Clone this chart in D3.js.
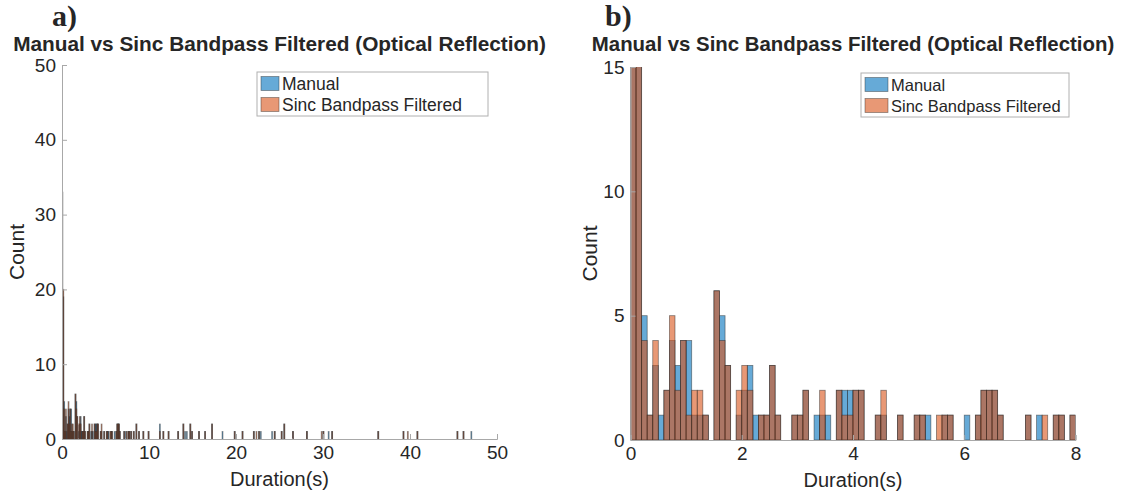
<!DOCTYPE html>
<html>
<head>
<meta charset="utf-8">
<script src="https://cdn.jsdelivr.net/npm/d3@7/dist/d3.min.js"></script>
<style>
  html, body { margin: 0; padding: 0; background: #fff; }
  svg { display: block; }
  text { font-family: "Liberation Sans", Arial, Helvetica, sans-serif; fill: #262626; }
</style>
</head>
<body>
<svg id="chart" width="1122" height="494"></svg>
<script>
// Histogram bin width in seconds (bins start at 0)
const binWidth = 0.1;

// Counts per 0.1 s bin from 0 to 8 s
const manualCounts = [
  33, 19, 5, 1, 3, 1, 2, 4, 3, 4,
  4, 1, 1, 1, 0, 6, 5, 3, 0, 1,
  2, 3, 1, 1, 1, 3, 1, 0, 0, 1,
  1, 2, 0, 1, 1, 1, 0, 2, 2, 2,
  2, 2, 0, 0, 1, 1, 0, 0, 1, 0,
  0, 1, 1, 1, 0, 0, 1, 1, 0, 0,
  1, 0, 1, 2, 2, 2, 1, 0, 0, 0,
  0, 1, 0, 1, 0, 0, 1, 1, 0, 1
];
const sincCounts = [
  20, 20, 4, 1, 4, 0, 2, 5, 2, 4,
  1, 2, 2, 1, 0, 6, 4, 3, 0, 2,
  3, 2, 0, 1, 1, 3, 1, 0, 0, 1,
  1, 2, 0, 0, 2, 0, 0, 2, 1, 1,
  2, 2, 0, 0, 1, 2, 0, 0, 1, 0,
  0, 1, 1, 0, 0, 1, 1, 1, 0, 0,
  0, 0, 1, 2, 2, 2, 1, 0, 0, 0,
  0, 1, 0, 0, 1, 0, 1, 1, 0, 1
];

// Sparse long-duration bins beyond 8 s (left edge of bin, seconds)
const tailBinStart = [8.2, 8.5, 8.8, 9.3, 9.9, 11.2, 11.6, 12.2, 13.3, 13.9, 14.1, 14.3, 14.7, 14.9,
  15.7, 16.4, 17.2, 18.4, 19.8, 20.7, 22.0, 22.3, 22.6, 22.8, 24.1, 24.4, 25.2, 25.5, 26.5,
  28.1, 29.8, 30.0, 30.6, 31.0, 36.3, 39.2, 39.7, 40.8, 45.4, 46.1, 47.0];
const tailManual = [1, 2, 1, 1, 1, 2, 1, 1, 1, 2, 1, 1, 2, 1,
  1, 1, 2, 1, 1, 1, 1, 0, 1, 1, 1, 1, 1, 2, 1,
  1, 0, 1, 1, 1, 1, 1, 0, 1, 1, 1, 1];
const tailSinc = [1, 2, 1, 1, 1, 1, 1, 1, 1, 2, 0, 0, 2, 1,
  1, 1, 2, 0, 1, 1, 1, 1, 1, 0, 0, 1, 1, 2, 1,
  1, 1, 1, 0, 1, 1, 1, 1, 1, 1, 1, 0];

const seriesNames = ["Manual", "Sinc Bandpass Filtered"];
const seriesColors = ["#0072BD", "#D95319"];

const panelTitle = "Manual vs Sinc Bandpass Filtered (Optical Reflection)";
const xLabel = "Duration(s)";
const yLabel = "Count";

const ticksA = { x: [0, 10, 20, 30, 40, 50], y: [0, 10, 20, 30, 40, 50] };
const ticksB = { x: [0, 2, 4, 6, 8], y: [0, 5, 10, 15] };

// Build bin records for each series
function buildBins(counts, tailCounts) {
  const bins = counts.map((c, i) => ({ x0: i * binWidth, x1: (i + 1) * binWidth, n: c }));
  tailBinStart.forEach((s, i) => bins.push({ x0: s, x1: s + binWidth, n: tailCounts[i] }));
  return bins.filter(b => b.n > 0);
}
const seriesBins = [buildBins(manualCounts, tailManual), buildBins(sincCounts, tailSinc)];

const svg = d3.select("#chart");

function drawPanel(cfg) {
  const x = d3.scaleLinear().domain(cfg.xDomain).range([cfg.left, cfg.right]);
  const y = d3.scaleLinear().domain(cfg.yDomain).range([cfg.bottom, cfg.top]);
  const g = svg.append("g");

  const clipId = "clip-" + cfg.id;
  svg.append("clipPath").attr("id", clipId).append("rect")
    .attr("x", cfg.left).attr("y", cfg.top)
    .attr("width", cfg.right - cfg.left).attr("height", cfg.bottom - cfg.top);

  const plot = g.append("g").attr("clip-path", `url(#${clipId})`);
  seriesBins.forEach((bins, si) => {
    plot.append("g").selectAll("rect")
      .data(bins.filter(b => b.x0 < cfg.xDomain[1]))
      .join("rect")
      .attr("x", d => x(d.x0))
      .attr("width", d => x(d.x1) - x(d.x0))
      .attr("y", d => y(d.n))
      .attr("height", d => y(0) - y(d.n))
      .attr("fill", seriesColors[si])
      .attr("fill-opacity", 0.6)
      .attr("stroke", "#262626")
      .attr("stroke-opacity", cfg.edgeOpacity)
      .attr("stroke-width", cfg.edgeWidth);
  });

  // Axes with inward ticks
  const xAxis = d3.axisBottom(x).tickValues(cfg.xTicks).tickSize(-5).tickPadding(7).tickFormat(d3.format("d"));
  const yAxis = d3.axisLeft(y).tickValues(cfg.yTicks).tickSize(-5).tickPadding(6).tickFormat(d3.format("d"));
  const gx = g.append("g").attr("transform", `translate(0,${cfg.bottom})`).call(xAxis);
  const gy = g.append("g").attr("transform", `translate(${cfg.left},0)`).call(yAxis);
  [gx, gy].forEach(a => {
    a.select(".domain").attr("stroke", "#a8a8a8").attr("stroke-width", 1);
    a.selectAll(".tick line").attr("stroke", "#a8a8a8");
    a.selectAll(".tick text").attr("font-size", 19).attr("fill", "#262626")
      .style("font-family", '"Liberation Sans", Arial, sans-serif');
  });

  // Axis labels
  g.append("text")
    .attr("x", (cfg.left + cfg.right) / 2).attr("y", cfg.bottom + 47)
    .attr("text-anchor", "middle").attr("font-size", 20).text(xLabel);
  g.append("text")
    .attr("transform", `translate(${cfg.yLabelX},${(cfg.top + cfg.bottom) / 2}) rotate(-90)`)
    .attr("text-anchor", "middle").attr("font-size", 21).text(yLabel);

  // Title and panel letter
  g.append("text")
    .attr("x", (cfg.left + cfg.right) / 2).attr("y", 51)
    .attr("text-anchor", "middle").attr("font-size", cfg.titleSize).attr("font-weight", "bold")
    .attr("fill", "#000").text(panelTitle);
  g.append("text")
    .attr("x", cfg.letterX).attr("y", 26)
    .attr("font-size", 30).attr("font-weight", "bold").attr("fill", "#000")
    .style("font-family", '"Liberation Serif", "Times New Roman", serif')
    .text(cfg.letter);

  // Legend
  const lg = g.append("g").attr("transform", `translate(${cfg.legend.x},${cfg.legend.y})`);
  lg.append("rect").attr("width", cfg.legend.w).attr("height", 44)
    .attr("fill", "#fff").attr("stroke", "#b0b0b0").attr("stroke-width", 1);
  seriesNames.forEach((name, i) => {
    lg.append("rect")
      .attr("x", 4).attr("y", 4.5 + i * 21).attr("width", cfg.legend.sw).attr("height", 14)
      .attr("fill", seriesColors[i]).attr("fill-opacity", 0.6)
      .attr("stroke", "#262626").attr("stroke-opacity", 0.5).attr("stroke-width", 0.8);
    lg.append("text")
      .attr("x", cfg.legend.sw + 7).attr("y", 17.5 + i * 21)
      .attr("font-size", cfg.legend.fs).attr("fill", "#000").text(name);
  });
}

drawPanel({
  id: "a", letter: "a)", letterX: 52,
  xDomain: [0, 50], yDomain: [0, 50],
  left: 62, right: 497, top: 65, bottom: 439,
  xTicks: ticksA.x, yTicks: ticksA.y,
  yLabelX: 24, titleSize: 20.8,
  edgeWidth: 0.9, edgeOpacity: 0.45,
  legend: { x: 257, y: 72, w: 231, sw: 18, fs: 17.5 }
});

drawPanel({
  id: "b", letter: "b)", letterX: 605,
  xDomain: [0, 8], yDomain: [0, 15],
  left: 630.5, right: 1075.5, top: 67, bottom: 440,
  xTicks: ticksB.x, yTicks: ticksB.y,
  yLabelX: 597, titleSize: 20.4,
  edgeWidth: 0.8, edgeOpacity: 0.55,
  legend: { x: 861, y: 73, w: 208, sw: 23, fs: 16.5 }
});
</script>
</body>
</html>
